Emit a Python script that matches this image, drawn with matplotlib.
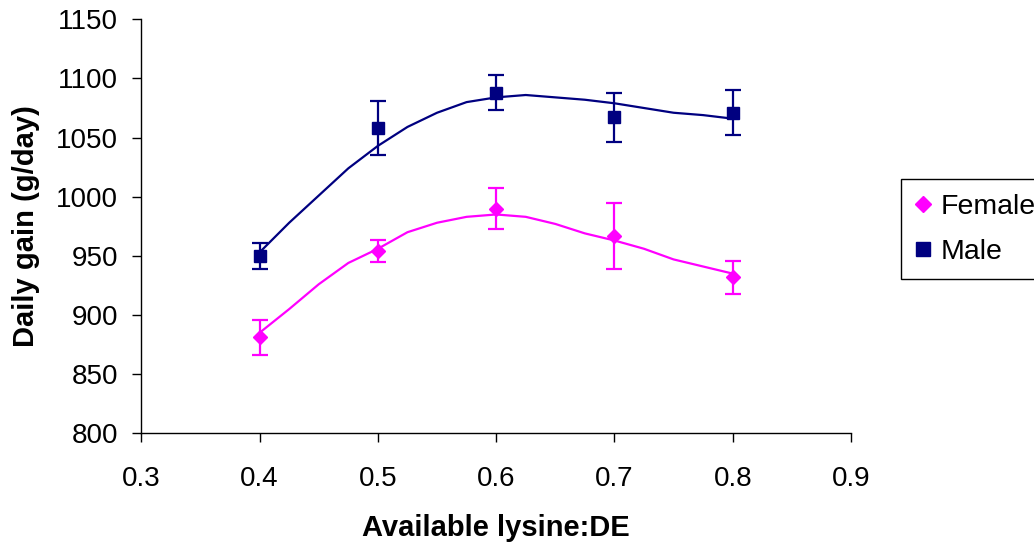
import matplotlib
matplotlib.use("Agg")
import matplotlib.pyplot as plt
from matplotlib.lines import Line2D

plt.rcParams['font.family'] = ['Liberation Sans', 'DejaVu Sans']

# Treatment levels and group means with standard errors
lysine = [0.4, 0.5, 0.6, 0.7, 0.8]
female_gain = [881, 954, 990, 967, 932]
female_err = [15, 9, 17, 28, 14]
male_gain = [950, 1058, 1088, 1067, 1071]
male_err = [11, 23, 15, 21, 19]

# Fitted response curves
curve_x = [0.400, 0.425, 0.450, 0.475, 0.500, 0.525, 0.550, 0.575, 0.600,
           0.625, 0.650, 0.675, 0.700, 0.725, 0.750, 0.775, 0.800]
female_fit = [885, 905, 926, 944, 956, 970, 978, 983, 985,
              983, 977, 969, 963, 956, 947, 941, 935]
male_fit = [953, 978, 1001, 1024, 1043, 1059, 1071, 1080, 1084,
            1086, 1084, 1082, 1079, 1075, 1071, 1069, 1066]

x_ticks = [0.3, 0.4, 0.5, 0.6, 0.7, 0.8, 0.9]
y_ticks = [800, 850, 900, 950, 1000, 1050, 1100, 1150]

FEMALE = '#FF00FF'
MALE = '#000080'

fig = plt.figure(figsize=(10.34, 5.47), dpi=100)
ax = fig.add_axes([0.1367, 0.2079, 0.8230 - 0.1367, 0.9647 - 0.2079])

ax.plot(curve_x, male_fit, color=MALE, lw=1.6, zorder=2)
ax.plot(curve_x, female_fit, color=FEMALE, lw=1.6, zorder=2)

ax.errorbar(lysine, male_gain, yerr=male_err, fmt='s', color=MALE, ms=9.2,
            elinewidth=1.6, capsize=6, capthick=1.6, zorder=3)
ax.errorbar(lysine, female_gain, yerr=female_err, fmt='D', color=FEMALE, ms=7.6,
            elinewidth=1.6, capsize=6, capthick=1.6, zorder=3)

ax.set_xlim(0.3, 0.9)
ax.set_ylim(800, 1150)
ax.set_xticks(x_ticks)
ax.set_xticklabels([f'{v:.1f}' for v in x_ticks])
ax.set_yticks(y_ticks)
ax.set_yticklabels([str(v) for v in y_ticks])

for side in ('top', 'right'):
    ax.spines[side].set_visible(False)
for side in ('left', 'bottom'):
    ax.spines[side].set_linewidth(1.0)
    ax.spines[side].set_color('black')

ax.tick_params(axis='both', direction='out', length=6.2, width=1.0,
               labelsize=20, colors='black')
ax.tick_params(axis='y', pad=10.4)
ax.tick_params(axis='x', pad=17)

ax.set_xlabel('Available lysine:DE', fontsize=21, fontweight='bold', labelpad=16)
ax.set_ylabel('Daily gain (g/day)', fontsize=21, fontweight='bold', labelpad=12)

handles = [
    Line2D([], [], marker='D', color=FEMALE, ls='none', ms=8.2),
    Line2D([], [], marker='s', color=MALE, ls='none', ms=9.4),
]
leg = fig.legend(handles, ['Female', 'Male'], loc='upper left',
                 bbox_to_anchor=(900.7 / 1034, 1 - 179.3 / 547),
                 fontsize=20.5, frameon=True, fancybox=False,
                 edgecolor='black', framealpha=1, handlelength=0.6,
                 handletextpad=0.3, borderpad=0.5, labelspacing=0.68,
                 borderaxespad=0)
leg.get_frame().set_linewidth(1.0)

fig.savefig('out.png', dpi=100)
